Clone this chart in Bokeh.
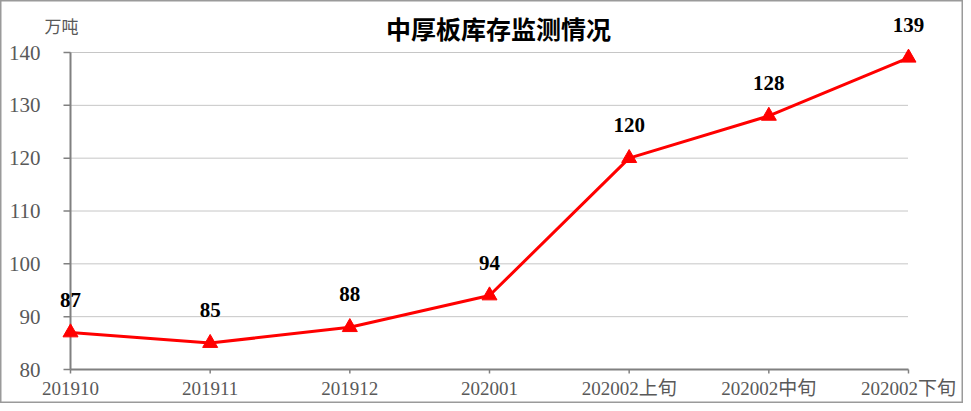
import numpy as np
from bokeh.plotting import figure
from bokeh.models import Range1d, Label, ColumnDataSource
from bokeh.core.properties import value
from bokeh.embed import file_html
from bokeh.resources import INLINE

categories = ["201910", "201911", "201912", "202001", "202002上旬", "202002中旬", "202002下旬"]
inventory = [87, 85, 88, 94, 120, 128, 139]
y_ticks = [80, 90, 100, 110, 120, 130, 140]
title_text = "中厚板库存监测情况"
unit_text = "万吨"

xs = list(range(len(categories)))

# layout (pixels)
W, H = 963, 403
PX_L, PX_R = 70, 908      # pixel of first / last category
PY_T, PY_B = 52, 369      # pixel of top / bottom tick
xs_per = (PX_R - PX_L) / (xs[-1] - xs[0])
ys_per = (PY_B - PY_T) / (y_ticks[-1] - y_ticks[0])
x_range = Range1d(xs[0] - PX_L / xs_per, xs[-1] + (W - PX_R) / xs_per)
y_range = Range1d(y_ticks[0] - (H - PY_B) / ys_per, y_ticks[-1] + PY_T / ys_per)

SERIF_CJK = "'Liberation Serif', 'Noto Sans CJK SC'"
GRAY = "#808080"
LABEL_GRAY = "#595959"

p = figure(width=W, height=H, output_backend="svg", toolbar_location=None,
           x_range=x_range, y_range=y_range,
           min_border_left=0, min_border_top=0, min_border_right=0, min_border_bottom=0)
p.title.visible = False
p.outline_line_color = "#9a9a9a"
p.outline_line_width = 2
p.background_fill_color = "white"
p.border_fill_color = "white"
p.grid.visible = False
p.xaxis.visible = False
p.yaxis.visible = False

x0, x1 = xs[0], xs[-1]
y0, y1 = y_ticks[0], y_ticks[-1]

# horizontal dotted grid lines
grid_y = y_ticks[1:]
p.segment(x0=[x0] * len(grid_y), x1=[x1] * len(grid_y), y0=grid_y, y1=grid_y,
          line_color="#8c8c8c", line_width=1, line_dash="1 1")

# y axis (at first category)
p.segment(x0=[x0], y0=[y0], x1=[x0], y1=[y1], line_color=GRAY, line_width=2)
p.ray(x=[x0] * len(y_ticks), y=y_ticks, length=7, length_units="screen", angle=np.pi,
      line_color=GRAY, line_width=1.5)
p.text(x=[x0] * len(y_ticks), y=y_ticks, text=[str(t) for t in y_ticks], x_offset=-30,
       text_align="right", text_baseline="middle", text_font=value("Liberation Serif"),
       text_font_size="21px", text_color=LABEL_GRAY)

# x axis (at bottom tick)
p.segment(x0=[x0], y0=[y0], x1=[x1], y1=[y0], line_color=GRAY, line_width=2)
p.ray(x=xs, y=[y0] * len(xs), length=4, length_units="screen", angle=-np.pi / 2,
      line_color=GRAY, line_width=1.5)
p.text(x=xs, y=[y0] * len(xs), text=categories, y_offset=19, text_align="center",
       text_baseline="middle", text_font=value(SERIF_CJK), text_font_size="19px", text_color=LABEL_GRAY)

# data
src = ColumnDataSource(dict(x=xs, y=inventory, lab=[str(v) for v in inventory]))
p.line("x", "y", source=src, line_color="#ff0000", line_width=3)
p.scatter("x", "y", source=src, marker="triangle", size=15, fill_color="#ff0000", line_color="#ff0000")
p.text("x", "y", text="lab", source=src, y_offset=-33, text_align="center", text_baseline="middle",
       text_font=value("Liberation Serif"), text_font_style="bold", text_font_size="21px", text_color="black")

# title and unit
p.add_layout(Label(x=3.065, y=y1 + 25 / ys_per, text=title_text, text_align="center",
                   text_baseline="middle", text_font="Noto Sans CJK SC", text_font_style="bold",
                   text_font_size="25px", text_color="black"))
p.add_layout(Label(x=x0 - 9 / xs_per, y=y1 + 27 / ys_per, text=unit_text, text_align="center",
                   text_baseline="middle", text_font="Noto Sans CJK SC", text_font_size="17px",
                   text_color=LABEL_GRAY))

open("out.html", "w").write(file_html(p, INLINE))
